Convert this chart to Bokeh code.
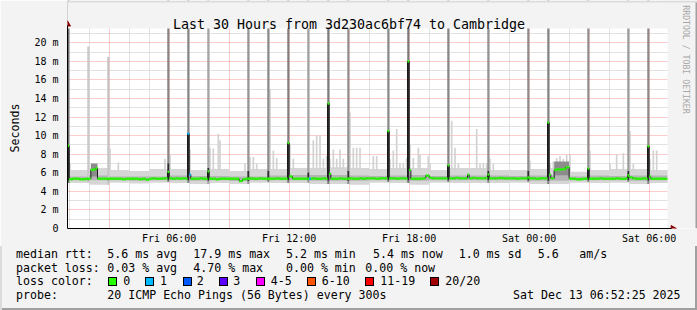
import math
import html
from bokeh.plotting import figure
from bokeh.models import FixedTicker, Grid, Range1d, Title, Div
from bokeh.layouts import column
from bokeh.core.properties import value
from bokeh.embed import file_html
from bokeh.resources import INLINE

# ---------------- data ----------------
title_text = "Last 30 Hours from 3d230ac6bf74 to Cambridge"
window = ["Fri 00:55", "Sat 06:55"]
tick_times = ["Fri 06:00", "Fri 12:00", "Fri 18:00", "Sat 00:00", "Sat 06:00"]
tick_labels = ["Fri 06:00", "Fri 12:00", "Fri 18:00", "Sat 00:00", "Sat 06:00"]
y_ticks = [0, 2, 4, 6, 8, 10, 12, 14, 16, 18, 20]
y_labels = ["0", "2 m", "4 m", "6 m", "8 m", "10 m", "12 m", "14 m", "16 m", "18 m", "20 m"]
y_top = 21.53

base_start = "Fri 01:00"   # median rtt (ms), 10-minute bins, one row per hour
base_median = [
    5.3, 5.35, 5.35, 5.3, 5.3, 5.35,      # 01
    5.35, 6.35, 6.5, 5.35, 5.35, 5.35,    # 02
    5.35, 5.35, 5.35, 5.35, 5.3, 5.35,    # 03
    5.35, 5.35, 5.35, 5.3, 5.35, 5.25,    # 04
    5.35, 5.4, 5.35, 5.35, 5.4, 5.4,      # 05
    5.4, 5.35, 5.4, 5.35, 5.4, 5.35,      # 06
    5.35, 5.35, 5.35, 5.4, 5.35, 5.35,    # 07
    5.35, 5.35, 5.3, 5.35, 5.35, 5.35,    # 08
    5.35, 5.35, 5.35, 5.1, 5.3, 5.35,     # 09
    5.4, 5.35, 5.35, 5.4, 5.35, 5.35,     # 10
    5.35, 5.35, 5.4, 5.35, 5.35, 5.35,    # 11
    5.35, 5.35, 5.35, 5.35, 5.35, 5.35,   # 12
    5.35, 5.4, 5.35, 5.35, 5.4, 5.35,     # 13
    5.35, 5.35, 5.35, 5.4, 5.35, 5.35,    # 14
    5.4, 5.35, 5.35, 5.4, 5.35, 5.4,      # 15
    5.4, 5.4, 5.35, 5.4, 5.4, 5.4,        # 16
    5.4, 5.4, 5.35, 5.4, 5.4, 5.35,       # 17
    5.35, 5.35, 5.35, 5.35, 5.4, 5.7,     # 18
    5.45, 5.4, 5.4, 5.4, 5.4, 5.4,        # 19
    5.4, 5.4, 5.45, 5.4, 5.4, 5.4,        # 20
    5.4, 5.45, 5.4, 5.4, 5.4, 5.45,       # 21
    5.4, 5.4, 5.4, 5.45, 5.4, 5.4,        # 22
    5.4, 5.4, 5.35, 5.4, 5.4, 5.4,        # 23
    5.4, 5.4, 5.35, 5.4, 5.4, 5.4,        # Sat 00
    5.4, 5.4, 6.35, 6.35, 6.4, 6.6,       # Sat 01
    5.35, 5.35, 5.3, 5.3, 5.35, 5.35,     # Sat 02
    5.35, 5.35, 5.35, 5.4, 5.35, 5.35,    # Sat 03
    5.35, 5.35, 5.4, 5.35, 5.35, 5.4,     # Sat 04
    5.5, 5.4, 5.35, 5.35, 5.4, 5.35,      # Sat 05
    5.35, 5.35, 5.35, 5.35, 5.35, 5.35,   # Sat 06
]
# hourly extent of the light smoke band around the median (ms)
smoke_lo = [4.9, 4.7, 5.0, 4.85, 5.0, 4.9, 4.8, 4.9, 4.8, 5.0,
            4.9, 4.9, 4.8, 4.8, 4.7, 5.0, 4.9, 4.7, 5.0, 4.9,
            4.9, 4.9, 5.0, 4.8, 4.8, 5.0, 4.9, 5.0, 4.8, 4.9]
smoke_hi = [6.3, 6.5, 6.3, 6.2, 6.4, 6.4, 6.3, 6.4, 6.2, 6.4,
            6.4, 6.5, 6.5, 6.6, 6.5, 6.4, 6.5, 6.5, 6.3, 6.5,
            6.5, 6.3, 6.3, 6.4, 6.5, 6.1, 6.3, 6.4, 6.4, 6.3]
mid_lo = [5.2, 5.2, 5.2, 5.15, 5.2, 5.2, 5.15, 5.2, 5.1, 5.2,
          5.2, 5.2, 5.15, 5.15, 5.15, 5.2, 5.2, 5.15, 5.2, 5.2,
          5.2, 5.2, 5.2, 5.15, 5.15, 5.2, 5.2, 5.2, 5.15, 5.2]
mid_hi = [5.6, 5.7, 5.6, 5.6, 5.6, 5.7, 5.65, 5.65, 5.6, 5.6,
          5.7, 5.75, 5.75, 5.75, 5.7, 5.65, 5.7, 5.75, 5.65, 5.7,
          5.7, 5.7, 5.65, 5.7, 5.7, 5.6, 5.7, 5.65, 5.7, 5.7]
# 5-minute light smoke excursions (time, top ms)
haze_time = ["Fri 01:00", "Fri 03:00", "Fri 03:25", "Fri 05:45", "Fri 06:00", "Fri 07:00",
             "Fri 08:00", "Fri 08:10", "Fri 08:25", "Fri 08:30", "Fri 09:45", "Fri 10:00",
             "Fri 10:10", "Fri 10:20", "Fri 11:00", "Fri 11:10", "Fri 11:20", "Fri 12:00",
             "Fri 12:10", "Fri 13:10", "Fri 13:20", "Fri 13:30", "Fri 13:40", "Fri 13:50",
             "Fri 14:00", "Fri 14:10", "Fri 14:20", "Fri 14:30", "Fri 14:40", "Fri 15:00",
             "Fri 15:10", "Fri 15:20", "Fri 15:30", "Fri 16:10", "Fri 16:20", "Fri 17:00",
             "Fri 17:10", "Fri 17:20", "Fri 17:30", "Fri 17:40", "Fri 17:50", "Fri 18:00",
             "Fri 18:10", "Fri 18:25", "Fri 18:30", "Fri 18:55", "Fri 19:00", "Fri 20:05",
             "Fri 20:15", "Fri 20:25", "Fri 21:20", "Fri 21:30", "Fri 21:40", "Fri 21:50",
             "Fri 22:00", "Fri 22:10", "Sat 00:00", "Sat 01:00", "Sat 01:10", "Sat 01:20",
             "Sat 01:30", "Sat 01:40", "Sat 01:50", "Sat 02:00", "Sat 03:00", "Sat 04:00",
             "Sat 04:20", "Sat 04:40", "Sat 05:00", "Sat 05:10", "Sat 06:00", "Sat 06:10",
             "Sat 06:20"]
haze_top = [7.0, 8.6, 7.1, 7.5, 8.0, 8.5,
            8.7, 8.6, 10.2, 9.5, 7.0, 7.7,
            7.7, 7.0, 15.0, 8.4, 7.6, 9.0,
            7.5, 9.5, 10.0, 10.0, 7.5, 7.8,
            7.5, 8.5, 7.5, 8.5, 7.5, 12.5,
            8.7, 8.7, 8.7, 7.8, 7.8, 7.5,
            8.4, 10.7, 7.0, 7.0, 7.6, 9.0,
            7.6, 8.7, 8.0, 7.8, 7.0, 11.6,
            8.7, 7.0, 10.7, 7.0, 7.0, 7.0,
            7.5, 7.0, 7.3, 7.0, 7.2, 7.6,
            7.8, 7.5, 7.9, 7.9, 8.4, 7.0,
            8.0, 8.1, 10.5, 7.0, 7.5, 8.4,
            8.4]
elev_start = ["Fri 02:05", "Sat 01:15"]
elev_end = ["Fri 02:25", "Sat 02:00"]
elev_lo = [5.6, 5.7]
elev_hi = [7.0, 7.2]

# 5-minute median samples that differ from the 10-minute bins (time, ms, lost pings)
event_time = ["Fri 00:55", "Fri 02:05", "Fri 02:25", "Fri 05:55", "Fri 06:55", "Fri 07:00",
              "Fri 07:55", "Fri 11:55", "Fri 12:00", "Fri 12:05", "Fri 13:00", "Fri 13:55",
              "Fri 14:00", "Fri 16:55", "Fri 17:55", "Fri 18:00", "Fri 19:55", "Fri 20:55",
              "Fri 21:55", "Fri 23:55", "Sat 00:55", "Sat 01:00", "Sat 01:15", "Sat 02:55",
              "Sat 04:55", "Sat 05:55", "Sat 06:00"]
event_median = [8.9, 6.3, 5.35, 6.1, 10.2, 5.8,
                6.15, 9.2, 5.6, 5.6, 5.35, 13.45,
                5.9, 10.5, 18.0, 6.3, 6.8, 5.8,
                5.8, 5.5, 11.4, 5.8, 6.3, 6.45,
                5.7, 8.85, 5.6]
event_loss = [0, 0, 0, 0, 1, 1,
              0, 0, 0, 0, 1, 0,
              0, 0, 0, 0, 0, 0,
              0, 0, 0, 0, 0, 0,
              0, 0, 0]

# ping spikes (time, smoke top ms, grey, dense part top ms)
spike_time = ["Fri 00:55", "Fri 01:55", "Fri 02:55", "Fri 05:55", "Fri 06:55", "Fri 07:55",
              "Fri 09:55", "Fri 10:55", "Fri 11:55", "Fri 12:55", "Fri 13:55", "Fri 14:55",
              "Fri 16:55", "Fri 17:55", "Fri 19:55", "Fri 21:55", "Fri 23:55", "Sat 00:55",
              "Sat 02:55", "Sat 04:55", "Sat 05:55"]
spike_top = [25, 19.6, 18.5, 25, 25, 25,
             25, 25, 25, 25, 25, 25,
             25, 25, 25, 25, 25, 25,
             25, 25, 25]
spike_grey = ["#707070", "#c8c8c8", "#c4c4c4", "#868686", "#868686", "#a4a4a4",
              "#969696", "#8a8a8a", "#808080", "#a0a0a0", "#7c7c7c", "#909090",
              "#8a8a8a", "#7a7a7a", "#888888", "#929292", "#8c8c8c", "#848484",
              "#909090", "#9c9c9c", "#8a8a8a"]
spike_dense = [8.9, 5.4, 5.4, 7.0, 10.2, 6.5,
               6.2, 6.2, 9.2, 6.0, 13.45, 6.2,
               10.5, 18.0, 6.8, 6.2, 6.2, 11.4,
               6.45, 6.2, 8.85]

loss_labels = ["0", "1", "2", "3", "4-5", "6-10", "11-19", "20/20"]
loss_upper = [0, 1, 2, 3, 5, 10, 19, 20]
loss_colors = ["#26ff00", "#00b8ff", "#0059ff", "#5e00ff", "#ff00ff", "#ff5500", "#ff0000", "#a00000"]

rtt_row = ["median rtt:", "5.6 ms avg", "17.9 ms max", "5.2 ms min", "5.4 ms now", "1.0 ms sd", "5.6", "am/s"]
loss_row = ["packet loss:", "0.03 % avg", "4.70 % max", "0.00 % min", "0.00 % now"]
probe_row = ["probe:", "20 ICMP Echo Pings (56 Bytes) every 300s", "Sat Dec 13 06:52:25 2025"]
color_row_label = "loss color:"
y_axis_title = "Seconds"
credit = "RRDTOOL / TOBI OETIKER"

# ---------------- helpers ----------------
def hrs(s):
    day, hm = s.split()
    h, m = hm.split(":")
    return (0 if day == "Fri" else 24) + int(h) + int(m) / 60.0

def lcolor(n):
    for up, c in zip(loss_upper, loss_colors):
        if n <= up:
            return c
    return loss_colors[-1]

SLOT = 1 / 12.0
BIN = 1 / 6.0
t0, t1 = hrs(window[0]), hrs(window[1])
b0 = hrs(base_start)

FONT = "DejaVu Sans Mono"
BG = "#f3f3f3"
W = 697
FL, FT, FR, FB = 67, 28, 667, 228        # plot area in page pixels
PXH = (FR - FL) / (t1 - t0)              # pixels per hour
PPM = (FB - FT) / y_top                  # pixels per ms
MAIN_H = 246

def X(px):
    return t0 + (px - FL) / PXH

def Y(py):
    return (FB - py) / PPM

x_end = X(W)
y_end = Y(0)

p = figure(width=W, height=MAIN_H, output_backend="svg", toolbar_location=None,
           x_range=Range1d(t0, x_end), y_range=Range1d(0, y_end),
           min_border_left=FL, min_border_right=0, min_border_top=0, min_border_bottom=MAIN_H - FB)
p.background_fill_color = "white"
p.border_fill_color = BG
p.outline_line_color = None
p.xgrid.visible = False
p.ygrid.visible = False

# grids
minor_x = [h for h in range(1, 31) if h % 3 != 0]
major_x = [h for h in range(3, 31, 3)]
minor_y = [v for v in range(1, 22, 2)]
major_y = [v for v in range(2, 21, 2)]
p.add_layout(Grid(dimension=0, ticker=FixedTicker(ticks=minor_x), grid_line_color="#c4c4c4", grid_line_dash="1 1"))
p.add_layout(Grid(dimension=1, ticker=FixedTicker(ticks=minor_y), grid_line_color="#c4c4c4", grid_line_dash="1 1"))
p.add_layout(Grid(dimension=0, ticker=FixedTicker(ticks=major_x), grid_line_color="#ff0000", grid_line_alpha=0.4, grid_line_dash="1 1"))
p.add_layout(Grid(dimension=1, ticker=FixedTicker(ticks=major_y), grid_line_color="#ff0000", grid_line_alpha=0.4, grid_line_dash="1 1"))

# light smoke band (hourly) and excursions (5-minute)
HL = [b0 + h for h in range(len(smoke_hi))]
p.quad(left=HL, right=[x + 1 for x in HL], bottom=smoke_lo, top=smoke_hi, fill_color="#d6d6d6", line_color=None)
ht = [hrs(s) for s in haze_time]
p.quad(left=ht, right=[t + SLOT for t in ht], bottom=[smoke_hi[max(0, int(t) - 1)] - 0.2 for t in ht],
       top=haze_top, fill_color="#d2d2d2", line_color=None)
# denser smoke around the median
p.quad(left=HL, right=[x + 1 for x in HL], bottom=mid_lo, top=mid_hi, fill_color="#b4b4b4", line_color=None)
p.quad(left=[hrs(s) for s in elev_start], right=[hrs(s) for s in elev_end], bottom=elev_lo, top=elev_hi,
       fill_color="#8c8c8c", line_color=None)

# spikes
st = [hrs(s) for s in spike_time]
pad = 0.012
p.quad(left=[t - pad for t in st], right=[t + SLOT + pad for t in st],
       bottom=[smoke_lo[max(0, int(t) - 1)] for t in st], top=spike_top,
       fill_color=spike_grey, line_color=None)
p.quad(left=st, right=[t + SLOT for t in st],
       bottom=[mid_lo[max(0, int(t) - 1)] for t in st], top=spike_dense,
       fill_color="#2e2e2e", line_color=None)

# median series in 5-minute slots
ev = {round(hrs(t) * 12): (v, l) for t, v, l in zip(event_time, event_median, event_loss)}
n_slots = int(round((t1 - t0) / SLOT))
slot_t, slot_v, slot_c = [], [], []
for k in range(n_slots):
    t = t0 + k * SLOT
    key = round(t * 12)
    if key in ev:
        v, l = ev[key]
    else:
        idx = min(len(base_median) - 1, int(round((t - b0) * 12)) // 2)
        v, l = base_median[idx], 0
    slot_t.append(t)
    slot_v.append(v)
    slot_c.append(lcolor(l))

p.step(x=slot_t + [slot_t[-1] + SLOT], y=slot_v + [slot_v[-1]], mode="after",
       line_color="#1a1a1a", line_width=1)
p.segment(x0=slot_t, y0=slot_v, x1=[t + SLOT for t in slot_t], y1=slot_v,
          line_color=slot_c, line_width=2.4)

# page background outside the graph area (above and to the right of it)
p.quad(left=[t0, t1], right=[x_end, x_end], bottom=[y_top, 0], top=[y_end, y_end],
       fill_color=BG, line_color=None)
# bevel edges of the image
p.quad(left=[t0], right=[x_end], bottom=[Y(2)], top=[y_end], fill_color="#dcdcdc", line_color=None)
p.quad(left=[X(W - 2)], right=[x_end], bottom=[0], top=[Y(2)], fill_color="#a0a0a0", line_color=None)

# axis arrow heads
p.scatter(x=[t0], y=[y_top + 0.45], marker="triangle", size=6, fill_color="#8b0000", line_color="#8b0000")
p.scatter(x=[t1 + 0.27], y=[0], marker="triangle", angle=-math.pi / 2, size=6,
          fill_color="#8b0000", line_color="#8b0000")

# title and credit
p.text(x=[X(348.5)], y=[Y(24)], text=[title_text], text_font=value(FONT), text_font_size=value("13.3px"),
       text_align="center", text_baseline="alphabetic", text_color="black")
p.text(x=[X(685)], y=[Y(59)], text=[credit], text_font=value(FONT), text_font_size=value("8.2px"),
       text_align="center", text_baseline="alphabetic", text_color="#a8a8a8", angle=-math.pi / 2)

# axes
p.xaxis.ticker = FixedTicker(ticks=[hrs(s) for s in tick_times])
p.xaxis.major_label_overrides = {hrs(s): lab for s, lab in zip(tick_times, tick_labels)}
p.yaxis.ticker = FixedTicker(ticks=y_ticks)
p.yaxis.major_label_overrides = {v: lab for v, lab in zip(y_ticks, y_labels)}
p.xaxis.bounds = (t0, t1 + 0.2)
p.yaxis.bounds = (0, y_top + 0.3)
for ax in (p.xaxis, p.yaxis):
    ax.axis_line_color = "black"
    ax.axis_line_width = 1
    ax.major_tick_in = 0
    ax.major_tick_out = 0
    ax.minor_tick_in = 0
    ax.minor_tick_out = 0
    ax.major_label_text_font = FONT
    ax.major_label_text_font_size = "10px"
    ax.major_label_text_color = "black"
p.xaxis.major_label_standoff = 4
p.yaxis.major_label_standoff = 9

p.add_layout(Title(text=y_axis_title, align="left", offset=76, vertical_align="top", standoff=15,
                   text_font=FONT, text_font_size="11.6px", text_font_style="normal",
                   text_color="black"), "left")

# ---------------- legend block below the graph ----------------
LH = 310 - MAIN_H
BASE_OFF = 11.0   # baseline offset inside a 14px line box

parts = []

def span(x, baseline, text):
    top = baseline - MAIN_H - BASE_OFF
    parts.append('<span style="position:absolute;left:%.1fpx;top:%.1fpx;white-space:pre;">%s</span>'
                 % (x, top, html.escape(text)))

for x, t in zip([16, 107.3, 193.3, 286, 373, 458.7, 537.7, 579.3], rtt_row):
    span(x, 258.3, t)
for x, t in zip([16, 107.3, 193.3, 286, 365.3], loss_row):
    span(x, 271.7, t)
span(16, 285, color_row_label)
box_x = [108.3, 145, 182.7, 219.3, 256, 307.3, 365.3, 430.3]
lab_x = [123.3, 160, 196.7, 233.3, 270.7, 321.7, 380.3, 445.3]
for bx, lx, c, t in zip(box_x, lab_x, loss_colors, loss_labels):
    parts.append('<span style="position:absolute;left:%.1fpx;top:%.1fpx;width:9px;height:9px;'
                 'box-sizing:border-box;border:1px solid #000;background:%s;"></span>'
                 % (bx, 277 - MAIN_H, c))
    span(lx, 285, t)
for x, t in zip([16, 107.3, 513], probe_row):
    span(x, 299.3, t)
parts.append('<span style="position:absolute;left:0;top:%dpx;width:%dpx;height:2px;background:#a0a0a0;"></span>'
             % (LH - 2, W))
parts.append('<span style="position:absolute;left:%dpx;top:0;width:2px;height:%dpx;background:#a0a0a0;"></span>'
             % (W - 2, LH))
parts.append('<span style="position:absolute;left:0;top:0;width:2px;height:%dpx;background:#dcdcdc;"></span>' % LH)

legend_html = ('<div style="position:relative;width:%dpx;height:%dpx;overflow:hidden;margin:0;padding:0;'
               'background:%s;font-family:\'DejaVu Sans Mono\';font-size:11.6px;line-height:14px;color:#000;">%s</div>'
               % (W, LH, BG, "".join(parts)))
legend = Div(text=legend_html, width=W, height=LH, margin=(0, 0, 0, 0))

layout = column(p, legend, spacing=0)
open("out.html", "w").write(file_html(layout, INLINE))
